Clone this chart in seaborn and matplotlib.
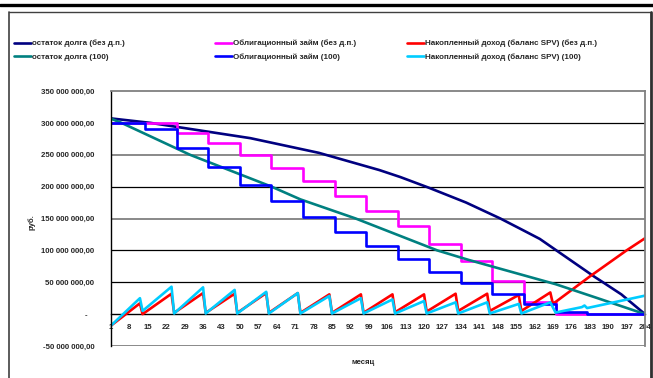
import numpy as np
import pandas as pd
import matplotlib
matplotlib.use("Agg")
import matplotlib.pyplot as plt
import seaborn as sns
from matplotlib.lines import Line2D

# ---------------- data (values in millions of rubles) ----------------
navy_months = [1, 16, 54, 80, 103, 111, 122, 136, 149, 157, 164, 171, 185, 188, 195, 204]
navy_values = [307, 300, 276, 253, 226, 215, 198, 175, 150, 133, 118, 98, 58, 50, 31, 0]

teal_months = [1, 5, 31, 62, 73, 94, 125, 137, 150, 170, 186, 204]
teal_values = [306.5, 300, 250, 200, 180, 150, 100, 85, 70, 47, 25, 0]

magenta_months = [1, 26, 38, 50, 62, 74, 86, 98, 110, 122, 134, 146, 158, 170, 204]
magenta_values = [300, 284.5, 268, 250, 229, 209.5, 186, 162.5, 137.5, 110.5, 83, 51.5, 19.6, 0, 0]

blue_months = [1, 14, 26, 38, 50, 62, 74, 86, 98, 110, 122, 134, 146, 158, 170, 182, 204]
blue_values = [300, 290, 260.5, 230.5, 202, 177, 152, 128.5, 107.5, 87, 66, 49, 31.7, 16.5, 3.5, 0, 0]

red_months = [1, 12, 13, 24, 25, 36, 37, 48, 49, 60, 61, 72, 73, 84, 85, 96, 97, 108, 109,
              120, 121, 132, 133, 144, 145, 156, 157, 168, 169, 183, 197, 204]
red_values = [-18, 17, 0, 32, 2, 33, 2, 32, 2, 33, 2, 33, 2, 31, 2, 31, 2, 31, 3,
              31, 4, 32, 5, 32, 5, 30, 5, 34, 16, 59, 100, 119]

cyan_months = [1, 12, 13, 24, 25, 36, 37, 48, 49, 60, 61, 72, 73, 84, 85, 96, 97, 108, 109,
               120, 121, 132, 133, 144, 145, 156, 157, 168, 170, 180, 181, 182, 204]
cyan_values = [-18, 25, 5, 43, 1, 42, 1, 38, 1, 35, 1, 33, 1, 28.5, 1, 25, 1, 23, 1,
               20.5, 1, 18.5, 1, 18.5, 1, 16, 1, 18.5, 2.5, 11, 13.5, 9.5, 29]

series_names = [
    "остаток долга (без д.п.)",
    "Облигационный займ (без д.п.)",
    "Накопленный доход (баланс SPV) (без д.п.)",
    "остаток долга (100)",
    "Облигационный займ (100)",
    "Накопленный доход (баланс SPV) (100)",
]

x_tick_labels = [str(m) for m in range(1, 205, 7)]
y_tick_values = [-50, 0, 50, 100, 150, 200, 250, 300, 350]
y_tick_labels = ["-50 000 000,00", "-   ", "50 000 000,00", "100 000 000,00",
                 "150 000 000,00", "200 000 000,00", "250 000 000,00",
                 "300 000 000,00", "350 000 000,00"]

# ---------------- style ----------------
sns.set_style("white")
plt.rcParams["font.family"] = ["Liberation Sans", "DejaVu Sans"]
plt.rcParams["font.weight"] = "bold"
FS = 5.6
LFS = 5.8

W, H = 653, 378
fig = plt.figure(figsize=(W / 100, H / 100), dpi=100)
fig.patch.set_facecolor("white")

L, R, T, B = 111, 645, 91, 346
ax = fig.add_axes([L / W, 1 - B / H, (R - L) / W, (B - T) / H])
ax.set_facecolor("white")

LW = 1.9
colors = ["#000080", "#FF00FF", "#FF0000", "#008080", "#0000FF", "#00CCFF"]

def draw(xs, ys, color, label, steps=False):
    df = pd.DataFrame({"m": xs, "v": ys})
    kw = dict(drawstyle="steps-post") if steps else {}
    sns.lineplot(data=df, x="m", y="v", ax=ax, color=color, lw=LW, label=label,
                 legend=False, sort=False, estimator=None, **kw)
    return ax.lines[-1]

h = []
h.append(draw(navy_months, navy_values, colors[0], series_names[0]))
h.append(draw(magenta_months, magenta_values, colors[1], series_names[1], steps=True))
h.append(draw(red_months, red_values, colors[2], series_names[2]))
h.append(draw(teal_months, teal_values, colors[3], series_names[3]))
h.append(draw(blue_months, blue_values, colors[4], series_names[4], steps=True))
h.append(draw(cyan_months, cyan_values, colors[5], series_names[5]))

ax.set_xlim(1, 204)
ax.set_ylim(-50, 350)

# gridlines
for v in [50, 100, 150, 200, 250, 300]:
    gc = "#808080" if v in (150, 250) else "black"
    glw = 1.3 if v in (150, 250) else 0.9
    ax.axhline(v, color=gc, lw=glw, zorder=0.5)
ax.axhline(-50, color="#808080", lw=1.3, zorder=0.5)

# spines
for s in ["top", "right"]:
    ax.spines[s].set_color("#808080")
    ax.spines[s].set_linewidth(1.3)
ax.spines["left"].set_color("black")
ax.spines["left"].set_linewidth(1.0)
ax.spines["bottom"].set_position(("data", 0))
ax.spines["bottom"].set_color("black")
ax.spines["bottom"].set_linewidth(1.0)
ax.spines["bottom"].set_zorder(1)

ax.set_xticks(list(range(1, 205, 7)))
ax.set_xticklabels(x_tick_labels, fontsize=FS, fontweight="bold")
ax.set_xticks(list(range(1, 205)), minor=True)
ax.tick_params(axis="x", which="both", direction="out", length=2.5, width=0.7,
               color="black", pad=4.5)
ax.set_yticks(y_tick_values)
ax.set_yticklabels(y_tick_labels, fontsize=FS, fontweight="bold")
ax.tick_params(axis="y", direction="out", length=3, width=0.8, color="black", pad=9)
ax.set_xlabel("")
ax.set_ylabel("")

fig.text(32 / W, 1 - 222 / H, "руб.", rotation=90, ha="center", va="center",
         fontsize=FS, fontweight="bold")
fig.text(363 / W, 1 - 362 / H, "месяц", ha="center", va="center",
         fontsize=FS, fontweight="bold")

# legends: three columns, two rows each
col_x = [14, 215, 407]
for i, cx in enumerate(col_x):
    fig.legend([h[i], h[i + 3]], [series_names[i], series_names[i + 3]],
               loc="center left", bbox_to_anchor=(cx / W, 1 - 50.5 / H),
               frameon=False, prop={"weight": "bold", "size": LFS},
               handlelength=2.1, handletextpad=0.15, labelspacing=0.75,
               borderpad=0, borderaxespad=0)

# outer decorations
fig.add_artist(Line2D([0, 1], [1 - 4.5 / H, 1 - 4.5 / H], color="black", lw=2.4,
                      transform=fig.transFigure))
fig.add_artist(Line2D([9 / W, 9 / W], [0, 1 - 12 / H], color="#404040", lw=1.2,
                      transform=fig.transFigure))
fig.add_artist(Line2D([9 / W, 650 / W], [1 - 12 / H, 1 - 12 / H], color="#404040", lw=1.0,
                      transform=fig.transFigure))
fig.add_artist(Line2D([650.5 / W, 650.5 / W], [0, 1 - 12 / H], color="#303030", lw=2.0,
                      transform=fig.transFigure))

fig.savefig("out.png", dpi=100)
